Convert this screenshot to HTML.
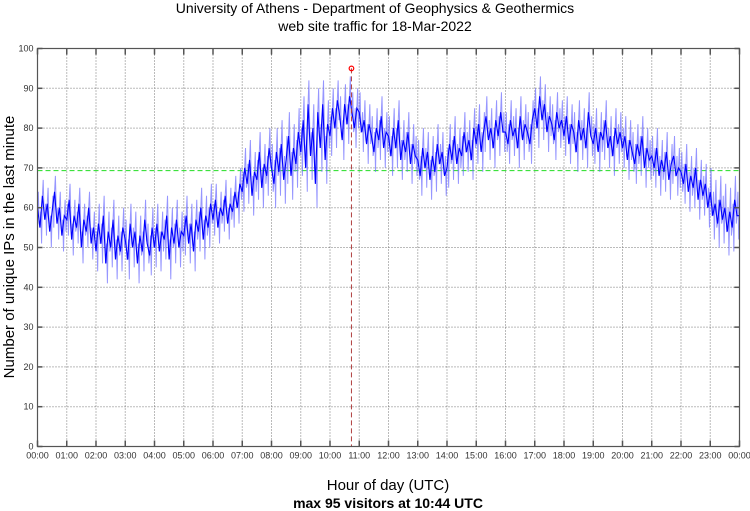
<!DOCTYPE html>
<html><head><meta charset="utf-8"><style>
body{margin:0;background:#fff;}
svg{display:block;font-family:"Liberation Sans",sans-serif;}
</style></head><body>
<svg id="chart" width="750" height="511" viewBox="0 0 750 511">
<text x="375" y="13" text-anchor="middle" font-size="14" fill="#000">University of Athens - Department of Geophysics &amp; Geothermics</text>
<text x="375" y="31" text-anchor="middle" font-size="14" fill="#000">web site traffic for 18-Mar-2022</text>
<text transform="translate(14,247) rotate(-90)" text-anchor="middle" font-size="15" fill="#000">Number of unique IPs in the last minute</text>
<text x="388" y="490" text-anchor="middle" font-size="15" fill="#000">Hour of day (UTC)</text>
<text x="388" y="508" text-anchor="middle" font-size="14" font-weight="bold" fill="#000">max 95 visitors at 10:44 UTC</text>
<g id="grid"></g><g id="series"></g><g id="axes"></g>
</svg>
<script>
const yTicks=[0,10,20,30,40,50,60,70,80,90,100];
const xTickLabels=["00:00","01:00","02:00","03:00","04:00","05:00","06:00","07:00","08:00","09:00","10:00","11:00","12:00","13:00","14:00","15:00","16:00","17:00","18:00","19:00","20:00","21:00","22:00","23:00","00:00"];
const visitors=[
60,55,63,57,61,54,59,64,56,60,53,58,
57,62,52,58,55,61,50,57,54,60,51,55,
49,56,51,58,46,54,50,57,47,53,49,55,
52,47,56,50,54,46,53,49,57,51,48,55,
50,56,49,54,52,58,47,55,51,57,50,54,
53,58,51,56,49,57,54,60,52,58,55,61,
57,62,55,60,58,63,56,61,59,64,60,66,
64,70,66,72,63,69,67,74,65,71,68,75,
70,66,74,69,76,67,72,78,68,75,71,79,
74,82,70,86,73,80,66,84,75,86,72,81,
78,85,80,87,83,77,86,81,88,84,80,85,
84,79,82,76,81,78,74,80,77,83,75,79,
78,73,80,75,82,72,77,74,79,71,76,73,
72,68,75,70,74,67,73,69,76,71,74,68,
70,76,72,78,71,75,73,79,74,77,72,80,
76,81,74,79,83,77,80,75,82,78,84,79,
79,76,82,78,80,75,83,77,81,79,76,82,
85,80,88,82,86,79,83,81,77,84,80,82,
78,83,76,81,79,74,82,77,80,75,84,78,
76,80,74,79,77,82,75,78,73,80,76,79,
75,78,72,77,74,71,76,73,78,70,75,72,
73,70,75,68,72,69,74,67,71,73,68,70,
69,66,71,64,68,65,70,62,67,63,66,60,
64,58,61,56,62,57,60,54,59,55,62,58];
const hourlySpread=[4,4,5,5,5,5,4,5,6,6,5,5,5,5,5,5,5,5,5,5,5,5,5,6];
const stepMinutes=[5];
const meanValue=[69.3];
const maxValue=[95];
const maxMinute=[644];

const L=37.5,R=739.5,T=48.5,B=446.5;
const X=m=>L+(R-L)*m/1440;
const Y=v=>B-(B-T)*v/100;
const NS="http://www.w3.org/2000/svg";
function mk(tag,attrs,parent){const e=document.createElementNS(NS,tag);for(const k in attrs)e.setAttribute(k,attrs[k]);parent.appendChild(e);return e;}
const grid=document.getElementById('grid'),series=document.getElementById('series'),axes=document.getElementById('axes');

yTicks.forEach(v=>{
  if(v>0&&v<100){const g=mk('line',{x1:L,x2:R,y1:Y(v),y2:Y(v),stroke:'#777','stroke-dasharray':'1,2','stroke-width':1},grid);
  
  }
  const t=mk('line',{x1:L,x2:L+5,y1:Y(v),y2:Y(v),stroke:'#555','stroke-width':1.5},axes);
  
  
  const t2=mk('line',{x1:R-5,x2:R,y1:Y(v),y2:Y(v),stroke:'#555','stroke-width':1.5},axes);
  
  
  const tx=mk('text',{x:L-4,y:Y(v)+3,'text-anchor':'end','font-size':9,fill:'#333'},axes);tx.textContent=v;
  
  
});
xTickLabels.forEach((lab,i)=>{
  const x=X(i*60);
  if(i>0&&i<24){const g=mk('line',{x1:x,x2:x,y1:T,y2:B,stroke:'#777','stroke-dasharray':'1,2','stroke-width':1},grid);
  
  }
  const t=mk('line',{x1:x,x2:x,y1:B-6,y2:B,stroke:'#555','stroke-width':1.5},axes);
  
  
  const t2=mk('line',{x1:x,x2:x,y1:T,y2:T+6,stroke:'#555','stroke-width':1.5},axes);
  
  
  const tx=mk('text',{x:x,y:B+12,'text-anchor':'middle','font-size':9,fill:'#333'},axes);tx.textContent=lab;
  
  
});
const frame=mk('rect',{x:L,y:T,width:R-L,height:B-T,fill:'none',stroke:'#555','stroke-width':1.2},axes);



const mean=mk('line',{x1:L,x2:R,y1:Y(meanValue[0]),y2:Y(meanValue[0]),stroke:'#22dd22','stroke-dasharray':'5,3','stroke-width':1},series);



const band=[];
visitors.forEach((v,i)=>{
  const s=hourlySpread[Math.floor(i*stepMinutes[0]/60)];
  const m0=i*stepMinutes[0];
  band.push(X(m0).toFixed(2)+','+Y(v).toFixed(2));
  band.push(X(m0+1.7).toFixed(2)+','+Y(v+s).toFixed(2));
  band.push(X(m0+3.4).toFixed(2)+','+Y(v-s).toFixed(2));
});
const bl=mk('polyline',{points:band.join(' '),fill:'none',stroke:'#6a6aff','stroke-width':1,'stroke-opacity':0.7},series);



const pts=visitors.map((v,i)=>X(i*stepMinutes[0]).toFixed(2)+','+Y(v).toFixed(2));
pts.push(X(1440).toFixed(2)+','+Y(visitors[visitors.length-1]).toFixed(2));
const line=mk('polyline',{points:pts.join(' '),fill:'none',stroke:'#0000ff','stroke-width':1.1},series);



const vx=X(maxMinute[0]);
const vl=mk('line',{x1:vx,x2:vx,y1:Y(maxValue[0]),y2:B,stroke:'#b04040','stroke-dasharray':'5,3','stroke-width':1},series);


const mc=mk('circle',{cx:vx,cy:Y(maxValue[0]),r:2.3,fill:'none',stroke:'#ff0000','stroke-width':1.2},series);


</script>
</body></html>
